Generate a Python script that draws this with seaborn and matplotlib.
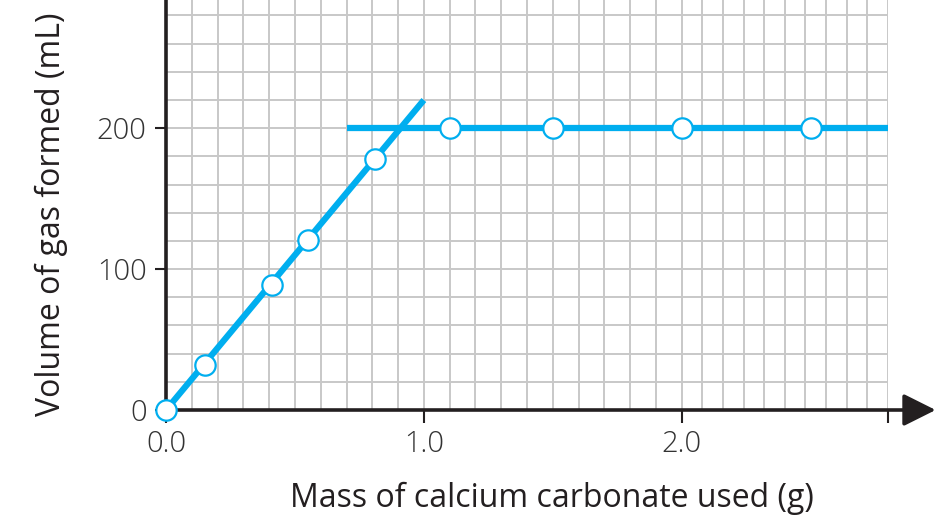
import numpy as np
import pandas as pd
import matplotlib
matplotlib.use("Agg")
import matplotlib.pyplot as plt
import seaborn as sns

# Data
mass = [0.0, 0.15, 0.41, 0.55, 0.81, 1.1, 1.5, 2.0, 2.5]
volume = [0, 32, 89, 121, 178, 200, 200, 200, 200]
fit_x = [0.0, 1.0]
fit_y = [0, 220]
plateau_x = [0.7, 2.8]
plateau_y = [200, 200]
xtick_vals = [0.0, 1.0, 2.0, 2.8]
xtick_labels = ["0.0", "1.0", "2.0", ""]
ytick_vals = [0, 100, 200]
ytick_labels = ["0", "100", "200"]

sns.set_theme(style="white")
plt.rcParams["font.family"] = ["Open Sans", "DejaVu Sans"]

BLUE = "#00AEEF"
DARK = "#231F20"
GRID = "#C8C8C8"

fig = plt.figure(figsize=(9.48, 5.23), dpi=100)
ax = fig.add_axes([166/948, 1-410/523, (888-166)/948, 410/523])

ax.set_xlim(0, 2.8)
ax.set_ylim(0, 291)

# grid (graph-paper look)
vgrid = list(np.round(np.arange(0.1, 2.0001, 0.1), 3)) + list(np.round(2.0 + 0.08*np.arange(1, 11), 3))
for gx in vgrid:
    ax.axvline(gx, color=GRID, lw=1.4, zorder=0)
for gy in range(20, 300, 20):
    ax.axhline(gy, color=GRID, lw=1.4, zorder=0)

df_fit = pd.DataFrame({"x": fit_x, "y": fit_y})
df_pl = pd.DataFrame({"x": plateau_x, "y": plateau_y})
df_pts = pd.DataFrame({"x": mass, "y": volume})

sns.lineplot(data=df_fit, x="x", y="y", ax=ax, color=BLUE, lw=4.5, zorder=3,
             solid_capstyle="butt")
sns.lineplot(data=df_pl, x="x", y="y", ax=ax, color=BLUE, lw=4.5, zorder=3,
             solid_capstyle="butt")
sns.scatterplot(data=df_pts, x="x", y="y", ax=ax, s=215, color="white",
                edgecolor=BLUE, linewidth=1.6, zorder=5, clip_on=False)

for sp in ["top", "right", "bottom"]:
    ax.spines[sp].set_visible(False)
ax.spines["left"].set_linewidth(2.6)
ax.spines["left"].set_color(DARK)
ax.spines["left"].set_zorder(4)

# x-axis with arrow
ax.annotate("", xy=(1.066, 0), xytext=(-0.002, 0), xycoords="axes fraction",
            textcoords="axes fraction",
            arrowprops=dict(arrowstyle="-|>,head_length=0.9,head_width=0.45",
                            color=DARK, lw=2.6, shrinkA=0, shrinkB=0,
                            mutation_scale=22),
            annotation_clip=False, zorder=4)

ax.set_xticks(xtick_vals)
ax.set_xticklabels(xtick_labels)
ax.set_yticks(ytick_vals)
ax.set_yticklabels(ytick_labels)
ax.tick_params(axis="x", direction="out", length=9, width=1.5, color=DARK,
               labelsize=21, labelcolor="#333333", pad=5, bottom=True)
ax.tick_params(axis="y", direction="out", length=8, width=1.5, color=DARK,
               labelsize=21, labelcolor="#333333", pad=6, left=True)
for t in ax.get_xticklabels() + ax.get_yticklabels():
    t.set_fontweight("light")

ax.set_xlabel("Mass of calcium carbonate used (g)", fontsize=23, color=DARK,
              labelpad=16)
ax.set_ylabel("Volume of gas formed (mL)", fontsize=23, color=DARK,
              labelpad=18)
ax.xaxis.set_label_coords((552-166)/722, -0.175)
ax.yaxis.set_label_coords(-0.136, 0.478)
ax.grid(False)

fig.savefig("out.png", dpi=100)
